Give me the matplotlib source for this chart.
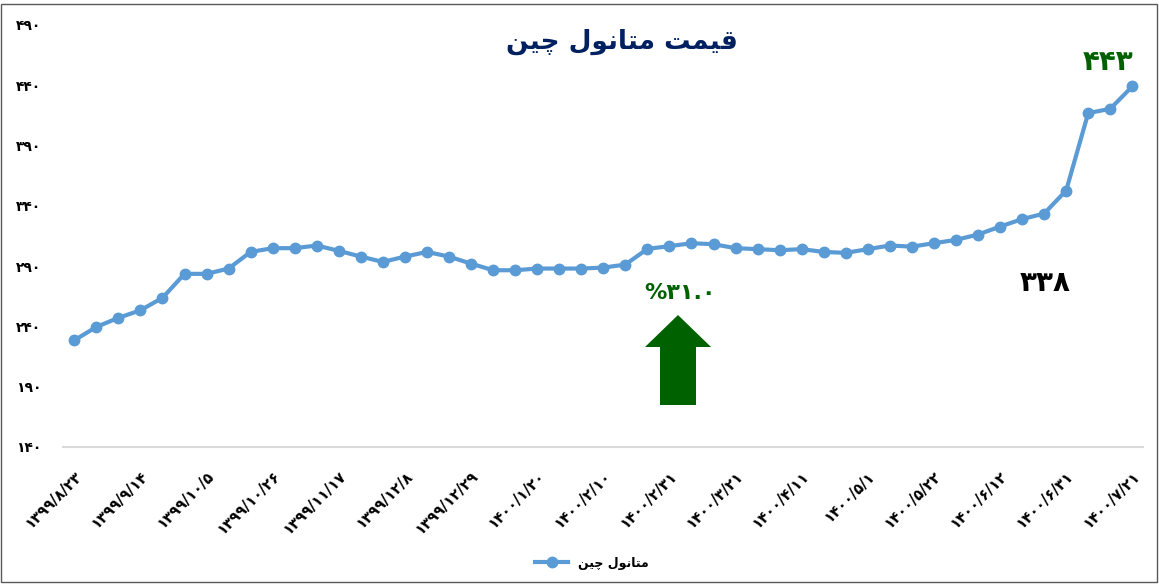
import matplotlib
matplotlib.use("Agg")
import matplotlib.pyplot as plt
from matplotlib.patches import Polygon, Rectangle

W, H = 1159, 584

# weekly price of methanol (China)
prices = [228.5, 239.6, 247.1, 253.4, 263.7, 283.6, 283.6, 288.0, 301.8, 304.9,
          304.9, 307.1, 302.7, 297.9, 293.5, 297.9, 301.8, 297.9, 292.1, 286.6,
          286.6, 288.0, 288.0, 288.0, 288.8, 291.3, 304.3, 306.6, 309.0, 308.2,
          304.9, 304.1, 303.2, 304.1, 301.8, 301.0, 304.1, 307.1, 306.2, 309.0,
          311.8, 316.2, 322.8, 329.0, 333.6, 352.7, 416.9, 420.5, 439.0]

# every third week is labelled
date_labels = ["۱۳۹۹/۸/۲۳", "۱۳۹۹/۹/۱۴", "۱۳۹۹/۱۰/۵", "۱۳۹۹/۱۰/۲۶", "۱۳۹۹/۱۱/۱۷",
               "۱۳۹۹/۱۲/۸", "۱۳۹۹/۱۲/۲۹", "۱۴۰۰/۱/۲۰", "۱۴۰۰/۲/۱۰", "۱۴۰۰/۲/۳۱",
               "۱۴۰۰/۳/۲۱", "۱۴۰۰/۴/۱۱", "۱۴۰۰/۵/۱", "۱۴۰۰/۵/۲۲", "۱۴۰۰/۶/۱۲",
               "۱۴۰۰/۶/۳۱", "۱۴۰۰/۷/۲۱"]
y_ticks = [140, 190, 240, 290, 340, 390, 440, 490]
y_labels = ["۱۴۰", "۱۹۰", "۲۴۰", "۲۹۰", "۳۴۰", "۳۹۰", "۴۴۰", "۴۹۰"]

# arabic text in presentation forms, visual (left to right) order
series_name = "\uFEE6\uFEF4\uFB7C \uFEDD\uFEEE\uFEE7\uFE8E\uFE98\uFEE3"   # متانول چین
title = series_name + " \uFE96\uFEE4\uFEF4\uFED7"                          # قیمت متانول چین
last_label = "۴۴۳"
base_label = "۳۳۸"
change_label = "%۳۱.۰"

plt.rcParams['font.family'] = ['DejaVu Sans', 'Noto Sans']

blue = "#5B9BD5"
green = "#006100"


def fx(px):
    return px / W


def fy(py):
    return 1 - py / H


fig = plt.figure(figsize=(W / 100, H / 100), dpi=100)
ax = fig.add_axes([fx(63.3), fy(447), fx(1143.3) - fx(63.3), fy(25) - fy(447)])

x = list(range(len(prices)))
ax.plot(x, prices, color=blue, lw=3, marker="o", ms=7.5, mfc=blue, mec=blue,
        label=series_name, solid_joinstyle="round")

ax.set_xlim(-0.5, len(prices) - 0.5)
ax.set_ylim(140, 490)
ax.set_yticks(y_ticks)
ax.set_yticklabels(y_labels, fontsize=10, fontweight="bold")
ax.set_xticks(x[::3])
ax.set_xticklabels(date_labels, rotation=45, ha="right", rotation_mode="anchor",
                   fontsize=10.5, fontweight="bold")
ax.tick_params(axis="y", length=0, pad=16)
ax.tick_params(axis="x", length=0, pad=15)

for s in ["top", "right", "left"]:
    ax.spines[s].set_visible(False)
ax.spines["bottom"].set_color("#D9D9D9")
ax.spines["bottom"].set_linewidth(1.5)

fig.text(fx(622), fy(42), title, ha="center", va="center", fontsize=19,
         fontweight="bold", color="#002060")

fig.text(fx(1108), fy(62), last_label, ha="center", va="center", fontsize=20,
         fontweight="bold", color=green)
fig.text(fx(1045), fy(283), base_label, ha="center", va="center", fontsize=20,
         fontweight="bold", color="black")
fig.text(fx(680), fy(293), change_label, ha="center", va="center", fontsize=16,
         fontweight="bold", color=green)

# up arrow
arrow = [(678, 315), (711, 347), (696, 347), (696, 405), (660, 405), (660, 347), (645, 347)]
fig.add_artist(Polygon([(fx(a), fy(b)) for a, b in arrow], closed=True,
                       transform=fig.transFigure, facecolor=green, edgecolor="none"))

leg = ax.legend(loc="center", bbox_to_anchor=(fx(592), fy(563)),
                bbox_transform=fig.transFigure, frameon=False,
                prop={"size": 9, "weight": "bold"}, handlelength=2.6,
                markerfirst=True)

fig.add_artist(Rectangle((fx(1), fy(582)), fx(1156), fy(4) - fy(582),
                         transform=fig.transFigure, fill=False,
                         edgecolor="#595959", lw=1))

fig.savefig("out.png", dpi=100)
